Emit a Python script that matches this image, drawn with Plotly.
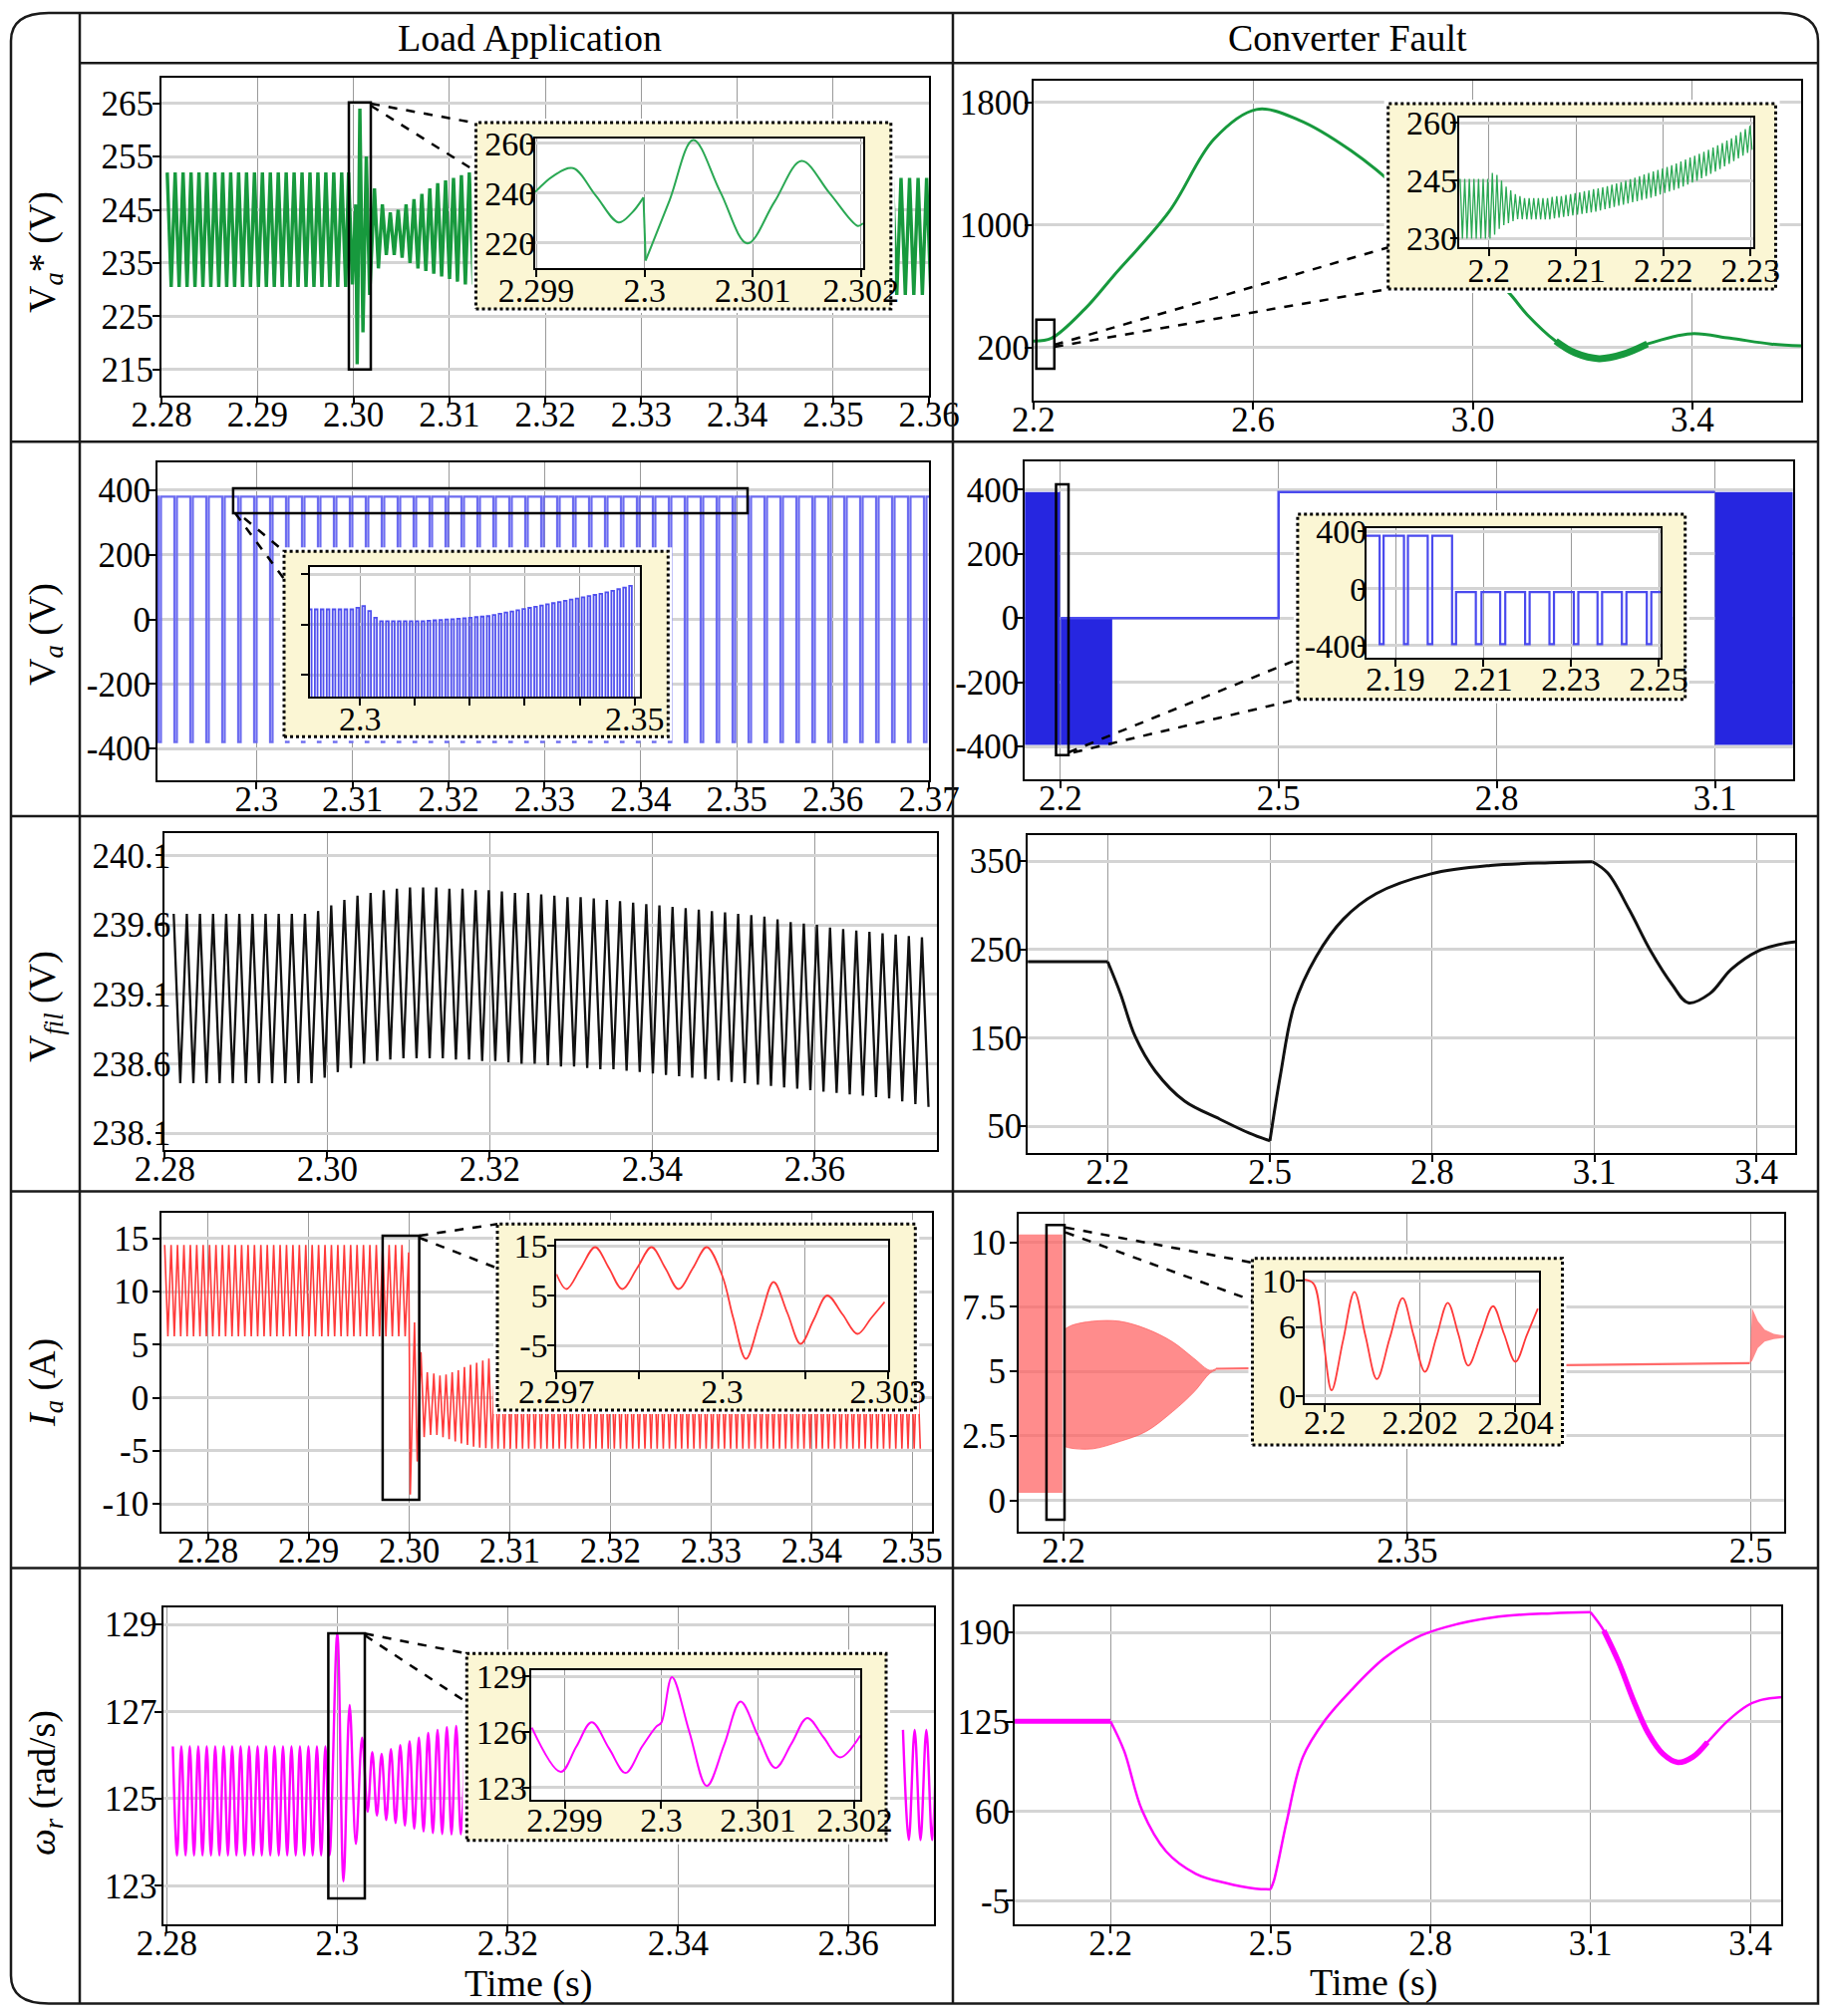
import numpy as np
import plotly.graph_objects as go

FONT = "Liberation Serif"
W, H, OFF = 1824, 2006, 8

# ======================= TICK LABELS =======================
p1_xt = [2.28, 2.29, 2.30, 2.31, 2.32, 2.33, 2.34, 2.35, 2.36]
p1_xl = ["2.28", "2.29", "2.30", "2.31", "2.32", "2.33", "2.34", "2.35", "2.36"]
p1_yt = [215, 225, 235, 245, 255, 265]
p2_xt = [2.2, 2.6, 3.0, 3.4]
p2_xl = ["2.2", "2.6", "3.0", "3.4"]
p2_yt = [200, 1000, 1800]
p3_xt = [2.30, 2.31, 2.32, 2.33, 2.34, 2.35, 2.36, 2.37]
p3_xl = ["2.3", "2.31", "2.32", "2.33", "2.34", "2.35", "2.36", "2.37"]
p3_yt = [-400, -200, 0, 200, 400]
p4_xt = [2.2, 2.5, 2.8, 3.1]
p4_xl = ["2.2", "2.5", "2.8", "3.1"]
p4_yt = [-400, -200, 0, 200, 400]
p5_xt = [2.28, 2.30, 2.32, 2.34, 2.36]
p5_xl = ["2.28", "2.30", "2.32", "2.34", "2.36"]
p5_yt = [238.1, 238.6, 239.1, 239.6, 240.1]
p6_xt = [2.2, 2.5, 2.8, 3.1, 3.4]
p6_xl = ["2.2", "2.5", "2.8", "3.1", "3.4"]
p6_yt = [50, 150, 250, 350]
p7_xt = [2.28, 2.29, 2.30, 2.31, 2.32, 2.33, 2.34, 2.35]
p7_xl = ["2.28", "2.29", "2.30", "2.31", "2.32", "2.33", "2.34", "2.35"]
p7_yt = [-10, -5, 0, 5, 10, 15]
p8_xt = [2.2, 2.35, 2.5]
p8_xl = ["2.2", "2.35", "2.5"]
p8_yt = [0, 2.5, 5, 7.5, 10]
p8_yl = ["0", "2.5", "5", "7.5", "10"]
p9_xt = [2.28, 2.30, 2.32, 2.34, 2.36]
p9_xl = ["2.28", "2.3", "2.32", "2.34", "2.36"]
p9_yt = [123, 125, 127, 129]
p10_xt = [2.2, 2.5, 2.8, 3.1, 3.4]
p10_xl = ["2.2", "2.5", "2.8", "3.1", "3.4"]
p10_yt = [-5, 60, 125, 190]

i1_xt = [2.299, 2.3, 2.301, 2.302]
i1_xl = ["2.299", "2.3", "2.301", "2.302"]
i1_yt = [220, 240, 260]
i2_xt = [2.2, 2.21, 2.22, 2.23]
i2_xl = ["2.2", "2.21", "2.22", "2.23"]
i2_yt = [230, 245, 260]
i3_xt = [2.30, 2.35]
i3_xl = ["2.3", "2.35"]
i3_xminor = [2.31, 2.32, 2.33, 2.34]
i3_yt = [340, 370, 400]
i4_xt = [2.19, 2.21, 2.23, 2.25]
i4_xl = ["2.19", "2.21", "2.23", "2.25"]
i4_yt = [-400, 0, 400]
i7_xt = [2.297, 2.3, 2.303]
i7_xl = ["2.297", "2.3", "2.303"]
i7_xminor = [2.2985, 2.3015]
i7_yt = [-5, 5, 15]
i8_xt = [2.2, 2.202, 2.204]
i8_xl = ["2.2", "2.202", "2.204"]
i8_yt = [0, 6, 10]
i9_xt = [2.299, 2.3, 2.301, 2.302]
i9_xl = ["2.299", "2.3", "2.301", "2.302"]
i9_yt = [123, 126, 129]

# ======================= DATA =======================
# ---- Va* (V), load application ----
vas_l_a_span = [2.2806, 2.2992]
vas_l_a_hi = [252.0] * 23
vas_l_a_lo = [230.5] * 23
vas_l_tr_t = [2.2995, 2.2999, 2.30025, 2.3004, 2.30068, 2.3010, 2.30135, 2.3017]
vas_l_tr_v = [252, 231, 246, 216, 264, 222, 255, 229]
vas_l_c_span = [2.3022, 2.3125]
vas_l_c_hi = [249, 246, 244.5, 245, 246, 247, 248, 249, 250, 250.5, 251, 251.5, 252]
vas_l_c_lo = [234, 236.5, 236.5, 236, 235, 234, 233.5, 233, 232.5, 232, 231.5, 231, 231]
vas_l_d_span = [2.3562, 2.3602]
vas_l_d_hi = [251.0] * 5
vas_l_d_lo = [229.0] * 5
vas_lz_t1 = [2.29899, 2.29916, 2.29934, 2.29955, 2.29976, 2.29988, 2.29999]
vas_lz_v1 = [240.5, 247, 250, 239, 228.3, 232, 238.3]
vas_lz_t2 = [2.30001, 2.30023, 2.30045, 2.3007, 2.30095, 2.3012, 2.30145, 2.30171, 2.30197, 2.30202]
vas_lz_v2 = [213, 237, 261.3, 240.5, 219.9, 236.5, 252.9, 240, 226.9, 228]

# ---- Va* (V), converter fault ----
vas_f_t = [2.2, 2.233, 2.294, 2.345, 2.447, 2.529, 2.606, 2.683, 2.778, 2.872, 2.96,
           3.063, 3.099, 3.151, 3.186, 3.23, 3.274, 3.318, 3.398, 3.468, 3.543, 3.6]
vas_f_v = [242, 261, 453, 664, 1087, 1562, 1755, 1687, 1487, 1212, 880,
           568, 415, 242, 165, 127, 156, 223, 290, 261, 223, 210]
vas_f_thick = [3.15, 3.33]
vas_fz_span = [2.1967, 2.2302]
vas_fz_hi = ([245.5] * 7 +
             [247, 246.5, 245, 243.5, 242.5, 241.5, 241, 240.5, 240.5, 240.5] +
             [240.5, 240.5, 240.5, 240.8, 241, 241, 241.3, 241.5, 241.8, 242, 242.3, 242.5,
              242.8, 243, 243.3, 243.6, 244, 244.3, 244.6, 245] +
             [245.4, 245.8, 246.2, 246.6, 247, 247.4, 247.8, 248.2, 248.6, 249, 249.5, 250,
              250.5, 251, 251.5, 252, 252.5, 253, 253.6, 254.2, 254.8, 255.4, 256, 256.8,
              257.6, 258.4, 259.2])
vas_fz_lo = ([230.0] * 7 +
             [231, 232.5, 233.5, 234, 234.5, 235, 235, 235, 235, 235] +
             [235, 235, 235, 235.2, 235.4, 235.6, 235.8, 236, 236.2, 236.4, 236.6, 236.8,
              237, 237.3, 237.6, 237.9, 238.2, 238.5, 238.8, 239.1] +
             [239.4, 239.7, 240, 240.3, 240.6, 241, 241.4, 241.8, 242.2, 242.6, 243, 243.5,
              244, 244.5, 245, 245.6, 246.2, 246.8, 247.4, 248, 248.7, 249.4, 250.1, 250.8,
              251.5, 252.2, 253])

# ---- Va (V), load application: PWM pulses ----
va_l_high, va_l_low = 380, -380
va_l_t0, va_l_period, va_l_dip, va_l_n = 2.2884, 0.00166, 0.00026, 50
va_lz_t0, va_lz_period, va_lz_dip, va_lz_low = 2.2907, 0.00108, 0.0006, -380
va_lz_top = ([379] * 8 + [380, 381, 378, 374] + [372] * 8 +
             [372.3, 372.5, 372.7, 373.0, 373.2, 373.5, 373.8, 374.1, 374.4, 374.7, 375.0] +
             [375.7, 376.4, 377.1, 377.8, 378.5, 379.2, 379.9, 380.6, 381.3, 382.0] +
             [382.7, 383.4, 384.1, 384.8, 385.5, 386.2, 386.9, 387.6, 388.3, 389.1, 390.0] +
             [391.0, 392.0, 393.0])

# ---- Va (V), converter fault ----
va_f_hi, va_f_lo = 392, -395
va_f_blk1 = [2.14, 2.1995]
va_f_blk2 = [2.2005, 2.2713]
va_f_blk3 = [3.1, 3.25]
va_f_line_t = [2.2005, 2.5, 2.5, 3.1]
va_f_line_v = [0, 0, 392, 392]
va_fz_t = [2.1834, 2.18639, 2.18729, 2.19194, 2.19284, 2.19735, 2.19839, 2.2029, 2.20381,
           2.20832, 2.20961, 2.21387, 2.21503, 2.21955, 2.22058, 2.2251, 2.22613, 2.23065,
           2.23168, 2.23606, 2.2371, 2.24161, 2.24265, 2.24729, 2.24832, 2.2506]
va_fz_v = [370, -390, 370, -390, 370, -390, 370, -390, -25, -390, -25, -390, -25, -390,
           -25, -390, -25, -390, -25, -390, -25, -390, -25, -390, -25, -25]

# ---- Vfil (V), load application ----
vfil_l_span = [2.2811, 2.3740]
vfil_l_hi = ([239.68] * 11 +
             [239.70, 239.74, 239.78, 239.81, 239.83, 239.85, 239.86, 239.87, 239.87, 239.87] +
             [239.86, 239.86, 239.85, 239.85, 239.84, 239.83, 239.83, 239.82, 239.81, 239.80,
              239.80, 239.79, 239.78, 239.77, 239.76] +
             [239.75, 239.74, 239.73, 239.72, 239.71, 239.70, 239.69, 239.68, 239.67, 239.66,
              239.64, 239.62, 239.61, 239.60, 239.58, 239.57, 239.56, 239.55, 239.54, 239.53,
              239.52, 239.51])
vfil_l_lo = ([238.46] * 11 +
             [238.50, 238.54, 238.57, 238.60, 238.62, 238.63, 238.64, 238.64, 238.64, 238.64] +
             [238.63, 238.63, 238.62, 238.62, 238.61, 238.60, 238.60, 238.59, 238.58, 238.58,
              238.57, 238.56, 238.56, 238.55, 238.54] +
             [238.53, 238.52, 238.51, 238.50, 238.49, 238.48, 238.47, 238.46, 238.45, 238.44,
              238.43, 238.42, 238.41, 238.40, 238.39, 238.38, 238.37, 238.36, 238.35, 238.33,
              238.31, 238.29])

# ---- Vfil (V), converter fault ----
vfil_f_seg = [
    ([2.04, 2.2], [236.2, 236.2]),
    ([2.2, 2.2237, 2.2507, 2.2885, 2.3425, 2.4072, 2.4612, 2.5],
     [236.2, 200, 151.7, 111.9, 78.3, 58.1, 42.4, 33.4]),
    ([2.5, 2.5193, 2.5446, 2.5851, 2.6358, 2.6966, 2.798, 2.9077, 3.0176, 3.0967],
     [33.4, 107.4, 186.2, 241.4, 284.3, 313.2, 335.6, 345, 348.2, 349.3]),
    ([3.0967, 3.1248, 3.1646, 3.2043, 3.244, 3.2738, 3.3135, 3.3533, 3.403, 3.4527, 3.48],
     [349.3, 336.6, 295.1, 248.3, 210.3, 189.7, 200, 227.6, 248.3, 257, 259]),
]

# ---- Ia (A), load application ----
ia_l_a_span = [2.2757, 2.2996]
ia_l_a_hi = [14.4] * 38
ia_l_a_lo = [5.8] * 38
ia_l_tr_t = [2.29995, 2.30011, 2.30053, 2.3008, 2.30117, 2.30149, 2.3018, 2.30213]
ia_l_tr_v = [13.7, -9.1, 7.1, -6.0, 4.3, -3.7, 2.4, -3.5]
ia_l_c_span = [2.30245, 2.3508]
ia_l_c_hi = [2.3, 2.1, 2.2, 2.4, 2.6, 2.9, 3.1, 3.3, 3.5, 3.7, 3.8, 3.9] + [4.0] * 68
ia_l_c_lo = [-3.5, -3.7, -3.9, -4.1, -4.3, -4.45, -4.6, -4.7, -4.75, -4.8] + [-4.8] * 70
ia_lz_t = [2.297, 2.29718, 2.29744, 2.2977, 2.29795, 2.29819, 2.29846, 2.29872, 2.29897,
           2.29921, 2.29947, 2.29972, 2.3, 2.3002, 2.30043, 2.30068, 2.30093, 2.30118,
           2.30142, 2.30166, 2.3019, 2.30218, 2.30245, 2.3027, 2.30294]
ia_lz_v = [9.3, 6.3, 10.5, 14.7, 10.5, 6.3, 10.5, 14.7, 10.5, 6.3, 10.5, 14.7, 9.0, 0.5,
           -7.7, 0, 7.7, 1.5, -4.7, 0.2, 5.0, 1.2, -2.7, 0.5, 3.7]

# ---- Ia (A), converter fault ----
ia_f_a_t = [2.175, 2.1995]
ia_f_a_hi, ia_f_a_lo = 10.3, 0.3
ia_f_lens_t = [2.2, 2.2035, 2.2128, 2.2244, 2.236, 2.2476, 2.2569, 2.2638, 2.2665]
ia_f_lens_hi = [6.6, 6.78, 6.94, 6.94, 6.65, 6.14, 5.5, 5.04, 5.1]
ia_f_lens_lo = [2.1, 2.02, 2.0, 2.28, 2.67, 3.44, 4.2, 4.92, 5.05]
ia_f_line_t = [2.2665, 2.4995]
ia_f_line_v = [5.1, 5.32]
ia_f_spk_hi_t = [2.4995, 2.5005, 2.503, 2.506, 2.51, 2.515, 2.52]
ia_f_spk_hi_v = [5.32, 7.45, 6.95, 6.62, 6.45, 6.38, 6.35]
ia_f_spk_lo_t = [2.52, 2.515, 2.51, 2.506, 2.503, 2.5005]
ia_f_spk_lo_v = [6.3, 6.3, 6.25, 6.15, 5.9, 5.4]
ia_fz_t = [2.19957, 2.19976, 2.19996, 2.20014, 2.20038, 2.20062, 2.20085, 2.20109, 2.20136,
           2.20163, 2.20186, 2.2021, 2.20234, 2.20258, 2.2028, 2.20301, 2.20327, 2.20353,
           2.20376, 2.204, 2.20424, 2.20447]
ia_fz_v = [10.1, 9.76, 5.1, 0.49, 4.8, 9.05, 5.25, 1.46, 5.0, 8.5, 5.3, 2.1, 5.1, 8.1,
           5.4, 2.64, 5.2, 7.8, 5.4, 2.97, 5.3, 7.6]

# ---- wr (rad/s), load application ----
wr_l_a_span = [2.2807, 2.2991]
wr_l_a_hi = [126.2] * 19
wr_l_a_lo = [123.7] * 19
wr_l_tr_t = [2.3, 2.30073, 2.30145, 2.30218, 2.30291]
wr_l_tr_v = [128.8, 123.1, 127.15, 123.96, 126.4]
wr_l_c_span = [2.30356, 2.31505]
wr_l_c_lo = [124.7, 124.61, 124.51, 124.44, 124.38, 124.31, 124.25, 124.21, 124.19, 124.18, 124.18]
wr_l_c_hi = [126.07, 126.03, 126.14, 126.23, 126.32, 126.4, 126.51, 126.58, 126.64, 126.67, 126.69]
wr_l_d_span = [2.3664, 2.3712]
wr_l_d_hi = [126.58] * 4
wr_l_d_lo = [124.05] * 4
wr_lz_t = [2.29866, 2.29896, 2.29912, 2.29928, 2.29946, 2.29963, 2.2998, 2.29995, 2.3,
           2.30011, 2.30029, 2.30047, 2.30065, 2.30082, 2.301, 2.30118, 2.30135, 2.30151,
           2.30168, 2.30185, 2.30206]
wr_lz_v = [126.23, 123.84, 125.2, 126.52, 125.1, 123.79, 125.2, 126.3, 126.5, 128.96, 126.0,
           123.08, 125.3, 127.63, 125.8, 124.06, 125.4, 126.75, 125.7, 124.63, 125.81]

# ---- wr (rad/s), converter fault ----
wr_f_seg = [
    ([2.0, 2.2], [125.5, 125.5]),
    ([2.2, 2.2257, 2.2593, 2.3041, 2.36, 2.416, 2.472, 2.5],
     [125.5, 103.8, 60.6, 31, 14.7, 8, 3.9, 3.4]),
    ([2.5, 2.5061, 2.5304, 2.5607, 2.6032, 2.6518, 2.7126, 2.7733, 2.8279, 2.9275, 3.0272, 3.1],
     [3.4, 9.3, 52.7, 99.5, 126.7, 148.2, 171, 186.2, 193.8, 201.4, 203.9, 204.7]),
    ([3.1, 3.125, 3.1528, 3.1806, 3.2083, 3.2361, 3.2639, 3.2917, 3.3194, 3.3565, 3.3935, 3.4167, 3.46],
     [204.7, 191.3, 168.5, 140.7, 116.8, 101.7, 95.6, 99.5, 110.3, 125.4, 136.7, 140.6, 143]),
]
wr_f_thick = [3.12, 3.34]

# ======================= HELPERS =======================
def PX(x):
    return (x - OFF) / W


def PY(y):
    return 1 - (y - OFF) / H


def zigzag(span, first, second):
    n = len(first)
    t = np.linspace(span[0], span[1], 2 * n)
    v = np.empty(2 * n)
    v[0::2] = first
    v[1::2] = second
    return t.tolist(), v.tolist()


def chain(*parts):
    t, v = [], []
    for pt, pv in parts:
        t += list(pt)
        v += list(pv)
    return t, v


def gapped(*parts):
    t, v = [], []
    for i, (pt, pv) in enumerate(parts):
        if i:
            t.append(None)
            v.append(None)
        t += list(pt)
        v += list(pv)
    return t, v


def dip_train(t0, period, dip, tops, low):
    t, v = [], []
    for k, top in enumerate(tops):
        s = t0 + k * period
        t += [s, s + period - dip, s + period - dip, s + period]
        v += [top, top, low, low]
    return t, v


def subset(t, v, lo, hi):
    tt, vv = [], []
    for a, b in zip(t, v):
        if a is not None and lo <= a <= hi:
            tt.append(a)
            vv.append(b)
    return tt, vv


fig = go.Figure()
AX = {}


def axes(n, xpx, ypx, xr, yr, xtv, xtt, ytv, ytt, fs=35, xminor=None, ylabels=True,
         xso=-20, yso=-8):
    common = dict(showline=True, linecolor="black", linewidth=2, mirror=True,
                  ticks="outside", ticklen=7, tickwidth=1.5, tickcolor="black",
                  zeroline=False, tickmode="array", fixedrange=True, showgrid=True,
                  automargin=False, tickfont=dict(family=FONT, size=fs, color="black"))
    xa = dict(common, domain=[PX(xpx[0]), PX(xpx[1])], range=xr,
              anchor=f"y{n}", tickvals=xtv, ticktext=xtt, ticklabelstandoff=xso,
              gridcolor="#9a9a9a", gridwidth=1)
    if xminor:
        xa["minor"] = dict(tickmode="array", tickvals=xminor, showgrid=True,
                           gridcolor="#9a9a9a", gridwidth=1, ticks="outside",
                           ticklen=7, tickwidth=1.5, tickcolor="black")
    ya = dict(common, domain=[PY(ypx[1]), PY(ypx[0])], range=yr, ticklabelstandoff=yso,
              anchor=f"x{n}", tickvals=ytv, gridcolor="#d4d4d4", gridwidth=2.5)
    if ylabels:
        ya["ticktext"] = ytt
    else:
        ya["showticklabels"] = False
    AX[f"xaxis{n}"] = xa
    AX[f"yaxis{n}"] = ya


def tr(n, t, v, color, width, shape="linear", **kw):
    fig.add_trace(go.Scatter(x=t, y=v, mode="lines",
                             line=dict(color=color, width=width, shape=shape),
                             xaxis=f"x{n}", yaxis=f"y{n}", hoverinfo="skip",
                             showlegend=False, **kw))


def poly(n, t, v, color):
    fig.add_trace(go.Scatter(x=t, y=v, mode="lines", fill="toself", fillcolor=color,
                             line=dict(width=0), xaxis=f"x{n}", yaxis=f"y{n}",
                             hoverinfo="skip", showlegend=False))


YELLOW = "#fbf6d4"
GREEN, GREEN2 = "#17993d", "#2aa853"
BLUE_L, BLUE_F, BLUE_Z = "#6c6cf0", "#2626e0", "#4a4aee"
RED, RED_FILL = "#ff3a3a", "rgba(255,95,95,0.72)"
MAG = "#ff00ff"


def cover(n, box, inner):
    bx0, by0, bx1, by1 = box
    pad = 4
    bw, bh = bx1 - bx0, by1 - by0
    AX[f"xaxis{n}"] = dict(visible=False, domain=[PX(bx0 - pad), PX(bx1 + pad)], automargin=False,
                           range=[-pad / bw, 1 + pad / bw], anchor=f"y{n}", fixedrange=True)
    AX[f"yaxis{n}"] = dict(visible=False, domain=[PY(by1 + pad), PY(by0 - pad)], automargin=False,
                           range=[-pad / bh, 1 + pad / bh], anchor=f"x{n}", fixedrange=True)
    fig.add_trace(go.Scatter(x=[0, 1, 1, 0, 0], y=[0, 0, 1, 1, 0], mode="lines",
                             fill="toself", fillcolor=YELLOW,
                             line=dict(color="black", width=3, dash="dot"),
                             xaxis=f"x{n}", yaxis=f"y{n}", hoverinfo="skip", showlegend=False))
    ix0, iy0, ix1, iy1 = inner
    u0, u1 = (ix0 - bx0) / bw, (ix1 - bx0) / bw
    v0, v1 = (by1 - iy1) / bh, (by1 - iy0) / bh
    fig.add_trace(go.Scatter(x=[u0, u1, u1, u0, u0], y=[v0, v0, v1, v1, v0], mode="lines",
                             fill="toself", fillcolor="white", line=dict(width=0),
                             xaxis=f"x{n}", yaxis=f"y{n}", hoverinfo="skip", showlegend=False))


# ======================= MAIN PANELS =======================
axes(10, [162, 932], [78, 397], [2.28, 2.36], [210.1, 269.8], p1_xt, p1_xl, p1_yt,
     [str(v) for v in p1_yt], yso=-8)
t1, v1 = chain(zigzag(vas_l_a_span, vas_l_a_hi, vas_l_a_lo), (vas_l_tr_t, vas_l_tr_v),
               zigzag(vas_l_c_span, vas_l_c_hi, vas_l_c_lo))
t1, v1 = gapped((t1, v1), zigzag(vas_l_d_span, vas_l_d_hi, vas_l_d_lo))
tr(10, t1, v1, GREEN, 3.4)

axes(11, [1036.8, 1807], [81, 402], [2.2, 3.598], [-147, 1943], p2_xt, p2_xl, p2_yt,
     [str(v) for v in p2_yt], yso=-12)
tr(11, vas_f_t, vas_f_v, GREEN, 3, "spline")
tt, vv = subset(vas_f_t, vas_f_v, *vas_f_thick)
tr(11, tt, vv, GREEN, 7, "spline")

axes(12, [158, 932], [464, 783.3], [2.2897, 2.37], [-499, 486], p3_xt, p3_xl, p3_yt,
     [str(v) for v in p3_yt], yso=-9)
t3, v3 = dip_train(va_l_t0, va_l_period, va_l_dip, [va_l_high] * va_l_n, va_l_low)
tr(12, t3, v3, BLUE_L, 2.2)

axes(13, [1028.3, 1798.6], [462.7, 781.7], [2.1513, 3.207], [-501, 488.7], p4_xt, p4_xl, p4_yt,
     [str(v) for v in p4_yt], yso=-10)
poly(13, [va_f_blk1[0], va_f_blk1[1], va_f_blk1[1], va_f_blk1[0]], [va_f_hi, va_f_hi, va_f_lo, va_f_lo], BLUE_F)
poly(13, [va_f_blk2[0], va_f_blk2[1], va_f_blk2[1], va_f_blk2[0]], [0, 0, va_f_lo, va_f_lo], BLUE_F)
poly(13, [va_f_blk3[0], va_f_blk3[1], va_f_blk3[1], va_f_blk3[0]], [va_f_hi, va_f_hi, va_f_lo, va_f_lo], BLUE_F)
tr(13, va_f_line_t, va_f_line_v, BLUE_Z, 2.5)

axes(14, [165.3, 939.7], [835.7, 1154.3], [2.28, 2.375], [237.977, 240.263], p5_xt, p5_xl, p5_yt,
     [str(v) for v in p5_yt], yso=-22)
t5, v5 = zigzag(vfil_l_span, vfil_l_hi, vfil_l_lo)
tr(14, t5, v5, "#111111", 2.3)

axes(15, [1031.2, 1801.4], [838.3, 1156.7], [2.0523, 3.4722], [20.1, 379.1], p6_xt, p6_xl, p6_yt,
     [str(v) for v in p6_yt], yso=-10)
t6, v6 = gapped(*vfil_f_seg)
tr(15, t6, v6, "#111111", 3, "spline")

axes(16, [162.2, 935.4], [1217.3, 1536.7], [2.2754, 2.3520], [-12.58, 17.4], p7_xt, p7_xl, p7_yt,
     [str(v) for v in p7_yt], yso=-3)
t7, v7 = chain(zigzag(ia_l_a_span, ia_l_a_hi, ia_l_a_lo), (ia_l_tr_t, ia_l_tr_v),
               zigzag(ia_l_c_span, ia_l_c_hi, ia_l_c_lo))
tr(16, t7, v7, RED, 1.6)

axes(17, [1022, 1790], [1218.3, 1537.3], [2.1804, 2.5145], [-1.22, 11.09], p8_xt, p8_xl, p8_yt,
     p8_yl, yso=-3)
poly(17, [ia_f_a_t[0], ia_f_a_t[1], ia_f_a_t[1], ia_f_a_t[0]], [ia_f_a_hi, ia_f_a_hi, ia_f_a_lo, ia_f_a_lo], RED_FILL)
tr(17, ia_f_lens_t, ia_f_lens_lo, "rgba(255,95,95,0.72)", 1, "spline")
fig.add_trace(go.Scatter(x=ia_f_lens_t, y=ia_f_lens_hi, mode="lines", fill="tonexty",
                         fillcolor=RED_FILL, line=dict(color="rgba(255,95,95,0.72)", width=1, shape="spline"),
                         xaxis="x17", yaxis="y17", hoverinfo="skip", showlegend=False))
tr(17, ia_f_line_t, ia_f_line_v, "#ff6a6a", 2.2)
poly(17, ia_f_spk_hi_t + ia_f_spk_lo_t, ia_f_spk_hi_v + ia_f_spk_lo_v, RED_FILL)

axes(18, [163.5, 936.7], [1612.7, 1930.7], [2.27954, 2.37], [122.12, 129.40], p9_xt, p9_xl, p9_yt,
     [str(v) for v in p9_yt], yso=-10)
t9, v9 = chain(zigzag(wr_l_a_span, wr_l_a_hi, wr_l_a_lo), (wr_l_tr_t, wr_l_tr_v),
               zigzag(wr_l_c_span, wr_l_c_lo, wr_l_c_hi))
t9, v9 = gapped((t9, v9), zigzag(wr_l_d_span, wr_l_d_hi, wr_l_d_lo))
tr(18, t9, v9, MAG, 2.4, "spline")

axes(19, [1018.1, 1787.2], [1611.7, 1930.7], [2.0205, 3.458], [-21.8, 209.1], p10_xt, p10_xl, p10_yt,
     [str(v) for v in p10_yt], yso=-11)
t10, v10 = gapped(*wr_f_seg)
tr(19, t10, v10, MAG, 2.5, "spline")
tr(19, wr_f_seg[0][0], wr_f_seg[0][1], MAG, 5)
tt, vv = subset(wr_f_seg[3][0], wr_f_seg[3][1], *wr_f_thick)
tr(19, tt, vv, MAG, 5.5, "spline")

# ======================= COVERS (yellow boxes) =======================
BOXES = {
    20: ([477.5, 123, 893.8, 310], [537, 139, 866, 269]),
    21: ([1392.7, 104, 1781.5, 290], [1463.7, 118.3, 1758.8, 248.3]),
    22: ([285, 553.3, 670.3, 739.3], [311, 569.3, 641.6, 699.3]),
    23: ([1301.9, 516, 1690.7, 701.7], [1371, 530, 1666.3, 660]),
    24: ([499, 1228.3, 918.3, 1415], [558.3, 1245, 890.8, 1375]),
    25: ([1256.5, 1262.7, 1567.5, 1450], [1308.7, 1277.3, 1544.3, 1408.3]),
    26: ([468.3, 1659.3, 889, 1846.7], [532.6, 1676, 863.2, 1806]),
}
for n, (box, inner) in BOXES.items():
    cover(n, box, inner)


def inset_axes(n, cov, xr, yr, xtv, xtt, ytv, ytt, **kw):
    inner = BOXES[cov][1]
    axes(n, [inner[0], inner[2]], [inner[1], inner[3]], xr, yr, xtv, xtt, ytv, ytt, fs=34, **kw)


# ======================= INSETS =======================
inset_axes(30, 20, [2.29899, 2.30202], [210, 261.9], i1_xt, i1_xl, i1_yt, [str(v) for v in i1_yt],
           xso=-16, yso=-16)
ti, vi = gapped((vas_lz_t1, vas_lz_v1), ([vas_lz_t1[-1], vas_lz_t2[0]], [vas_lz_v1[-1], vas_lz_v2[0]]),
                (vas_lz_t2, vas_lz_v2))
tr(30, ti, vi, GREEN2, 2, "spline")

inset_axes(31, 21, [2.19656, 2.2303], [227.7, 261.3], i2_xt, i2_xl, i2_yt, [str(v) for v in i2_yt],
           xso=-15, yso=-14)
ti, vi = zigzag(vas_fz_span, vas_fz_hi, vas_fz_lo)
tr(31, ti, vi, GREEN2, 1.3)

inset_axes(32, 22, [2.29089, 2.3509], [327, 404], i3_xt, i3_xl, i3_yt, None,
           xminor=i3_xminor, ylabels=False, xso=-16)
ti, vi = dip_train(va_lz_t0, va_lz_period, va_lz_dip, va_lz_top, va_lz_low)
tr(32, ti, vi, "#5050ee", 1.8)

inset_axes(33, 23, [2.1834, 2.2505], [-485, 424], i4_xt, i4_xl, i4_yt, [str(v) for v in i4_yt],
           xso=-17, yso=-16)
tr(33, va_fz_t, va_fz_v, BLUE_Z, 2.2, "hv")

inset_axes(34, 24, [2.297, 2.303], [-10, 16], i7_xt, i7_xl, i7_yt, [str(v) for v in i7_yt],
           xminor=i7_xminor, xso=-17, yso=-7)
tr(34, ia_lz_t, ia_lz_v, RED, 1.8, "spline")

inset_axes(35, 25, [2.19957, 2.2045], [-0.65, 10.7], i8_xt, i8_xl, i8_yt, [str(v) for v in i8_yt],
           xso=-19, yso=-7)
tr(35, ia_fz_t, ia_fz_v, RED, 1.8, "spline")

inset_axes(36, 26, [2.29865, 2.30206], [122.34, 129.33], i9_xt, i9_xl, i9_yt, [str(v) for v in i9_yt],
           xso=-18, yso=-12)
tr(36, wr_lz_t, wr_lz_v, MAG, 2, "spline")

# ======================= FRAME, MARKERS, TEXT =======================
shapes = []


def pline(x0, y0, x1, y1, width=2.5, dash=None, color="#1a1a1a"):
    ln = dict(color=color, width=width)
    if dash:
        ln["dash"] = dash
    shapes.append(dict(type="line", xref="paper", yref="paper", x0=PX(x0), y0=PY(y0),
                       x1=PX(x1), y1=PY(y1), line=ln, layer="above"))


def prect(x0, y0, x1, y1, width=2.5):
    shapes.append(dict(type="rect", xref="paper", yref="paper", x0=PX(x0), y0=PY(y1),
                       x1=PX(x1), y1=PY(y0), line=dict(color="black", width=width),
                       fillcolor="rgba(0,0,0,0)", layer="above"))


L, R, T, B = 11, 1824, 13, 2010.5
rx, ry = 38, 28
path = (f"M {PX(L)},{PY(T + ry)} Q {PX(L)},{PY(T)} {PX(L + rx)},{PY(T)} "
        f"L {PX(R - rx)},{PY(T)} Q {PX(R)},{PY(T)} {PX(R)},{PY(T + ry)} "
        f"L {PX(R)},{PY(B)} L {PX(L + rx)},{PY(B)} Q {PX(L)},{PY(B)} {PX(L)},{PY(B - ry)} Z")
shapes.append(dict(type="path", path=path, xref="paper", yref="paper",
                   line=dict(color="#1a1a1a", width=2.5), layer="above"))
pline(80, T, 80, B)
pline(956, T, 956, B)
pline(80, 63.3, R, 63.3)
for yy in [443.3, 819, 1195.5, 1573.5]:
    pline(L, yy, R, yy)

for r in [(350, 102.7, 372, 370.7), (1039.7, 320.7, 1057.8, 370), (233.9, 490, 750, 515),
          (1059.5, 486, 1072, 757.7), (383.9, 1240, 420.6, 1505), (1049.9, 1229.3, 1068, 1525),
          (329.4, 1639, 366, 1905)]:
    prect(*r)

for (a, b, c, d) in [(372, 104, 477.5, 123.5), (372, 106, 477.5, 172),
                     (1057.8, 346, 1392.7, 248.3), (1057.8, 348, 1392.7, 290),
                     (236, 515, 285, 581), (245, 520, 285, 553.3),
                     (1072, 755, 1301.9, 661.7), (1077, 755, 1301.9, 701.7),
                     (420.6, 1240, 499, 1228.3), (420.6, 1242, 499, 1272.7),
                     (1069, 1231.7, 1256.5, 1267), (1069, 1236.7, 1256.5, 1305),
                     (366, 1639.3, 468.3, 1659.3), (366, 1641, 468.3, 1708.3)]:
    pline(a, b, c, d, width=2.5, dash="dash", color="black")

annotations = []


def ann(text, x, y, size=38, angle=0):
    annotations.append(dict(text=text, x=PX(x), y=PY(y), xref="paper", yref="paper",
                            showarrow=False, xanchor="center", yanchor="middle",
                            textangle=angle, font=dict(family=FONT, size=size, color="black")))


ann("Load Application", 531, 38)
ann("Converter Fault", 1352, 38)
ann("V<sub><i>a</i></sub>* (V)", 45, 253, angle=-90)
ann("V<sub><i>a</i></sub> (V)", 45, 637, angle=-90)
ann("V<sub><i>fil</i></sub> (V)", 45, 1010, angle=-90)
ann("<i>I</i><sub><i>a</i></sub> (A)", 45, 1388, angle=-90)
ann("<i>ω</i><sub><i>r</i></sub> (rad/s)", 45, 1789, angle=-90)
ann("Time (s)", 530, 1990)
ann("Time (s)", 1378, 1989)

fig.update_layout(width=W, height=H, margin=dict(l=0, r=0, t=0, b=0, pad=0, autoexpand=False),
                  paper_bgcolor="white", plot_bgcolor="white", showlegend=False,
                  shapes=shapes, annotations=annotations, **AX)
fig.write_html("out.html")
